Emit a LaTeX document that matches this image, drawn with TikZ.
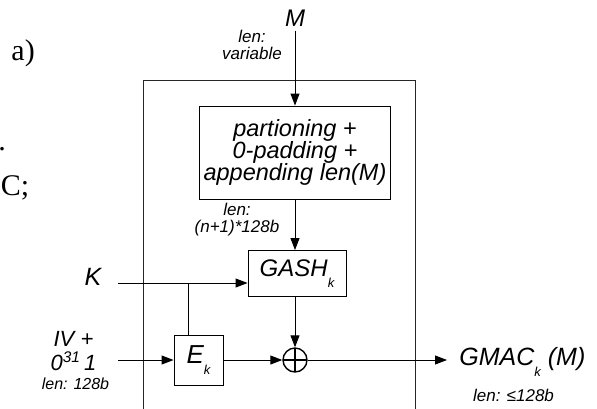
\documentclass[tikz,border=0pt]{standalone}
\usepackage{fontspec}
\setmainfont{Liberation Sans}
\newfontfamily\pagefont{Liberation Serif}
\usetikzlibrary{arrows.meta}
\newcommand{\idx}[1]{\raisebox{-11pt}{\fontsize{13}{13}\selectfont #1}}

\begin{document}
\begin{tikzpicture}[x = 1pt, y = -1pt, line width = .9pt,
    arr/.style = {-{Triangle[length = 12pt, width = 9pt]}},
    blk/.style = {draw, inner sep = 0pt, align = center},
    big/.style = {font = \fontsize{24}{24}\selectfont\itshape},
    note/.style = {font = \fontsize{17}{17}\selectfont\itshape, align = center, inner sep = 0pt},
    page/.style = {inner sep = 0pt, font = \fontsize{30}{30}\pagefont}]
    \useasboundingbox (0, 0) rectangle (597, 408);
    \node (a)    at ( 11,  60) [page, anchor = base west] {a)};
    \node (dot)  at ( -2, 150) [page, anchor = base west] {.};
    \node (ac)   at (0.5, 195) [page, anchor = base west] {C;};
    \draw [line width = .7pt, black!85] (143, 420) -- (143, 80) -- (415, 80) -- (415, 420);
    \node (m)    at (295, 18.5) [big] {M};
    \node (mlen) at (252,  45) [note] {len:\\variable};
    \node (part) at (295, 152.5) [blk, minimum width = 191pt, minimum height = 93pt,
                                  font = \fontsize{23.5}{22}\selectfont\itshape] {partioning +\\0-padding +\\appending len(M)};
    \node (plen) at (237, 220) [note] {len:\\(n+1)*128b};
    \node (gash) at (297, 273.5) [blk, big, minimum width = 98pt, minimum height = 46pt] {GASH\idx{k}};
    \node (ek)   at (198.5, 360) [blk, minimum width = 49pt, minimum height = 50pt,
                                  font = \fontsize{26}{26}\selectfont\itshape] {E\idx{k}};
    \node (xor)  at (295, 360) [circle, draw, line width = 1.4pt, minimum size = 24pt, inner sep = 0pt,
                                path picture = {\draw [line width = 1.4pt]
                                  (path picture bounding box.north) -- (path picture bounding box.south)
                                  (path picture bounding box.west) -- (path picture bounding box.east);}] {};
    \node (k)    at ( 93, 276.5) [big, inner sep = 0pt, font = \fontsize{25}{25}\selectfont\itshape] {K};
    \node (iv)   at (73.5, 351) [font = \fontsize{22}{23.5}\selectfont\itshape, align = center, inner sep = 0pt] {IV +\\0\textsuperscript{31}\,1};
    \node (ivlen) at (75.5, 383.5) [note, font = \fontsize{16}{16}\selectfont\itshape] {len: 128b};
    \node (gmac) at (447, 361.75) [big, anchor = west, inner xsep = 12pt, inner ysep = 0pt,
                                   font = \fontsize{25}{25}\selectfont\itshape] {GMAC\idx{k} (M)};
    \node (glen) at (513.5, 395.5) [note] {len: ≤128b};
    \coordinate (kin)   at (118, 283);
    \coordinate (ivin)  at (118, 360);
    \coordinate (split) at (188, 283);
    \draw [arr] (m.south) -- (m.south |- part.north);
    \draw [arr] (part.south) -- (part.south |- gash.north);
    \draw [arr] (xor |- gash.south) -- (xor.north);
    \draw [arr] (kin) -- (kin -| gash.west);
    \draw (split) -- (split |- ek.north);
    \draw [arr] (ivin) -- (ek.west);
    \draw [arr] (ek.east) -- (xor.west);
    \draw [arr] (xor.east) -- (gmac.west |- xor);
\end{tikzpicture}
\end{document}
